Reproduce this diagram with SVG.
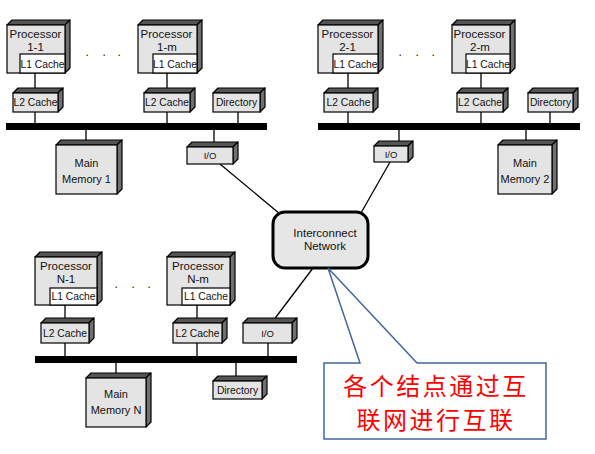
<svg xmlns="http://www.w3.org/2000/svg" width="595" height="454" viewBox="0 0 595 454">
<style>
.top{fill:#555;stroke:#000;stroke-width:1.2;stroke-linejoin:round}
.side{fill:#707070;stroke:#000;stroke-width:1.2;stroke-linejoin:round}
.face{fill:#e4e4e4;stroke:#000;stroke-width:1.2}
.l1{fill:#fff;stroke:#000;stroke-width:1.2}
.t{font-family:"Liberation Sans",Arial,sans-serif;fill:#111;text-anchor:middle}
.p{font-size:11.5px}
.s{font-size:10.3px}
.m{font-size:11px}
.io{font-size:9.5px}
.bus{fill:#000}
.ln{stroke:#000;stroke-width:1.3;fill:none}
.dots{font-family:"Liberation Sans",Arial,sans-serif;font-size:12px;fill:#111}
.call{fill:#fff;stroke:#41669c;stroke-width:1.5;stroke-linejoin:miter}
.cjk{font-family:"Noto Sans CJK SC","Noto Sans CJK TC",sans-serif;font-size:24px;letter-spacing:2.5px;fill:#ff0000;text-anchor:middle}
</style>
<rect width="595" height="454" fill="#fff"/>
<g id="connectors">
<line class="ln" x1="35" y1="73" x2="35" y2="123"/>
<line class="ln" x1="167" y1="73" x2="167" y2="123"/>
<line class="ln" x1="238" y1="112" x2="238" y2="123"/>
<line class="ln" x1="86" y1="130" x2="86" y2="145"/>
<line class="ln" x1="214" y1="130" x2="214" y2="147"/>
<line class="ln" x1="348" y1="73" x2="348" y2="123"/>
<line class="ln" x1="481" y1="73" x2="481" y2="123"/>
<line class="ln" x1="550" y1="112" x2="550" y2="123"/>
<line class="ln" x1="399" y1="130" x2="399" y2="146"/>
<line class="ln" x1="526" y1="130" x2="526" y2="145"/>
<line class="ln" x1="65" y1="305" x2="65" y2="356"/>
<line class="ln" x1="197" y1="305" x2="197" y2="356"/>
<line class="ln" x1="268" y1="343" x2="268" y2="356"/>
<line class="ln" x1="116" y1="363" x2="116" y2="378"/>
<line class="ln" x1="236" y1="363" x2="236" y2="381"/>
<line class="ln" x1="220" y1="164" x2="280" y2="214"/>
<line class="ln" x1="390" y1="162" x2="361" y2="213"/>
<line class="ln" x1="313" y1="268" x2="273" y2="321"/>
</g>
<g id="bus1"><rect class="bus" x="6" y="123" width="261" height="7"/></g>
<g id="bus2"><rect class="bus" x="318" y="123" width="262" height="7"/></g>
<g id="busN"><rect class="bus" x="35" y="356" width="262" height="7"/></g>

<g id="proc1-1">
<polygon class="top" points="7,25 12,20 70,20 65,25"/>
<polygon class="side" points="65,25 70,20 70,68 65,73"/>
<rect class="face" x="7" y="25" width="58" height="48"/>
<rect class="l1" x="20" y="54" width="45" height="19"/>
<text class="t p" x="35.5" y="38">Processor</text>
<text class="t p" x="35.5" y="51">1-1</text>
<text class="t s" x="42.5" y="67.5">L1 Cache</text>
</g>
<g id="proc1-m">
<polygon class="top" points="138,25 143,20 202,20 197,25"/>
<polygon class="side" points="197,25 202,20 202,68 197,73"/>
<rect class="face" x="138" y="25" width="59" height="48"/>
<rect class="l1" x="153" y="54" width="44" height="19"/>
<text class="t p" x="166.5" y="38">Processor</text>
<text class="t p" x="167" y="51">1-m</text>
<text class="t s" x="175" y="67.5">L1 Cache</text>
</g>
<g id="proc2-1">
<polygon class="top" points="318,25 323,20 383,20 378,25"/>
<polygon class="side" points="378,25 383,20 383,68 378,73"/>
<rect class="face" x="318" y="25" width="60" height="48"/>
<rect class="l1" x="333" y="54" width="45" height="19"/>
<text class="t p" x="347.5" y="38">Processor</text>
<text class="t p" x="347.5" y="51">2-1</text>
<text class="t s" x="355.5" y="67.5">L1 Cache</text>
</g>
<g id="proc2-m">
<polygon class="top" points="452,25 457,20 515,20 510,25"/>
<polygon class="side" points="510,25 515,20 515,68 510,73"/>
<rect class="face" x="452" y="25" width="58" height="48"/>
<rect class="l1" x="466" y="54" width="44" height="19"/>
<text class="t p" x="479.5" y="38">Processor</text>
<text class="t p" x="480" y="51">2-m</text>
<text class="t s" x="488" y="67.5">L1 Cache</text>
</g>

<g id="l2-1-1">
<polygon class="top" points="13,93 18,88 63,88 58,93"/>
<polygon class="side" points="58,93 63,88 63,107 58,112"/>
<rect class="face" x="13" y="93" width="45" height="19"/>
<text class="t s" x="35.5" y="106">L2 Cache</text>
</g>
<g id="l2-1-m">
<polygon class="top" points="144,93 149,88 195,88 190,93"/>
<polygon class="side" points="190,93 195,88 195,107 190,112"/>
<rect class="face" x="144" y="93" width="46" height="19"/>
<text class="t s" x="167" y="106">L2 Cache</text>
</g>
<g id="dir1">
<polygon class="top" points="213,93 218,88 265,88 260,93"/>
<polygon class="side" points="260,93 265,88 265,107 260,112"/>
<rect class="face" x="213" y="93" width="47" height="19"/>
<text class="t s" x="236.5" y="106">Directory</text>
</g>
<g id="l2-2-1">
<polygon class="top" points="324,93 329,88 378,88 373,93"/>
<polygon class="side" points="373,93 378,88 378,107 373,112"/>
<rect class="face" x="324" y="93" width="49" height="19"/>
<text class="t s" x="348.5" y="106">L2 Cache</text>
</g>
<g id="l2-2-m">
<polygon class="top" points="457,93 462,88 508,88 503,93"/>
<polygon class="side" points="503,93 508,88 508,107 503,112"/>
<rect class="face" x="457" y="93" width="46" height="19"/>
<text class="t s" x="480" y="106">L2 Cache</text>
</g>
<g id="dir2">
<polygon class="top" points="528,93 533,88 578,88 573,93"/>
<polygon class="side" points="573,93 578,88 578,107 573,112"/>
<rect class="face" x="528" y="93" width="45" height="19"/>
<text class="t s" x="550.5" y="106">Directory</text>
</g>

<g id="mem1">
<polygon class="top" points="56,145 61,140 122,140 117,145"/>
<polygon class="side" points="117,145 122,140 122,189 117,194"/>
<rect class="face" x="56" y="145" width="61" height="49"/>
<text class="t m" x="86.5" y="167">Main</text>
<text class="t m" x="86.5" y="183">Memory 1</text>
</g>
<g id="io1">
<polygon class="top" points="187,147 192,142 238,142 233,147"/>
<polygon class="side" points="233,147 238,142 238,159 233,164"/>
<rect class="face" x="187" y="147" width="46" height="17"/>
<text class="t io" x="210" y="159">I/O</text>
</g>
<g id="io2">
<polygon class="top" points="374,146 379,141 413,141 408,146"/>
<polygon class="side" points="408,146 413,141 413,157 408,162"/>
<rect class="face" x="374" y="146" width="34" height="16"/>
<text class="t io" x="391" y="158">I/O</text>
</g>
<g id="mem2">
<polygon class="top" points="498,145 503,140 557,140 552,145"/>
<polygon class="side" points="552,145 557,140 557,189 552,194"/>
<rect class="face" x="498" y="145" width="54" height="49"/>
<text class="t m" x="525" y="167">Main</text>
<text class="t m" x="525" y="183">Memory 2</text>
</g>

<g id="procN-1">
<polygon class="top" points="35,257 40,252 102,252 97,257"/>
<polygon class="side" points="97,257 102,252 102,300 97,305"/>
<rect class="face" x="35" y="257" width="62" height="48"/>
<rect class="l1" x="50" y="288" width="47" height="17"/>
<text class="t p" x="66" y="270">Processor</text>
<text class="t p" x="66" y="283">N-1</text>
<text class="t s" x="73.5" y="300">L1 Cache</text>
</g>
<g id="procN-m">
<polygon class="top" points="167,257 172,252 235,252 230,257"/>
<polygon class="side" points="230,257 235,252 235,300 230,305"/>
<rect class="face" x="167" y="257" width="63" height="48"/>
<rect class="l1" x="182" y="288" width="48" height="17"/>
<text class="t p" x="198" y="270">Processor</text>
<text class="t p" x="198" y="283">N-m</text>
<text class="t s" x="206" y="300">L1 Cache</text>
</g>
<g id="l2-N-1">
<polygon class="top" points="41,323 46,318 94,318 89,323"/>
<polygon class="side" points="89,323 94,318 94,338 89,343"/>
<rect class="face" x="41" y="323" width="48" height="20"/>
<text class="t s" x="65" y="337">L2 Cache</text>
</g>
<g id="l2-N-m">
<polygon class="top" points="173,323 178,318 227,318 222,323"/>
<polygon class="side" points="222,323 227,318 227,338 222,343"/>
<rect class="face" x="173" y="323" width="49" height="20"/>
<text class="t s" x="197.5" y="337">L2 Cache</text>
</g>
<g id="ioN">
<polygon class="top" points="243,323 248,318 297,318 292,323"/>
<polygon class="side" points="292,323 297,318 297,338 292,343"/>
<rect class="face" x="243" y="323" width="49" height="20"/>
<text class="t io" x="267.5" y="337">I/O</text>
</g>
<g id="memN">
<polygon class="top" points="86,378 91,373 151,373 146,378"/>
<polygon class="side" points="146,378 151,373 151,422 146,427"/>
<rect class="face" x="86" y="378" width="60" height="49"/>
<text class="t m" x="116" y="398">Main</text>
<text class="t m" x="116" y="414">Memory N</text>
</g>
<g id="dirN">
<polygon class="top" points="213,381 218,376 267,376 262,381"/>
<polygon class="side" points="262,381 267,376 267,394 262,399"/>
<rect class="face" x="213" y="381" width="49" height="18"/>
<text class="t s" x="237.5" y="394">Directory</text>
</g>

<g id="dots">
<text class="dots" x="85.5 102.5 117.5" y="56">...</text>
<text class="dots" x="398.5 415.5 431.5" y="56">...</text>
<text class="dots" x="114.5 131.5 147.5" y="288">...</text>
</g>

<g id="interconnect">
<rect x="273" y="212" width="95" height="56" rx="12" ry="12" fill="#e6e6e6" stroke="#000" stroke-width="3"/>
<text class="t p" x="325" y="237">Interconnect</text>
<text class="t p" x="325" y="250">Network</text>
</g>

<g id="callout">
<polygon class="call" points="324,363 360,363 328,268 417,363 546,363 546,439 324,439"/>
<text class="cjk" x="436" y="395">各个结点通过互</text>
<text class="cjk" x="436" y="429">联网进行互联</text>
</g>
</svg>
